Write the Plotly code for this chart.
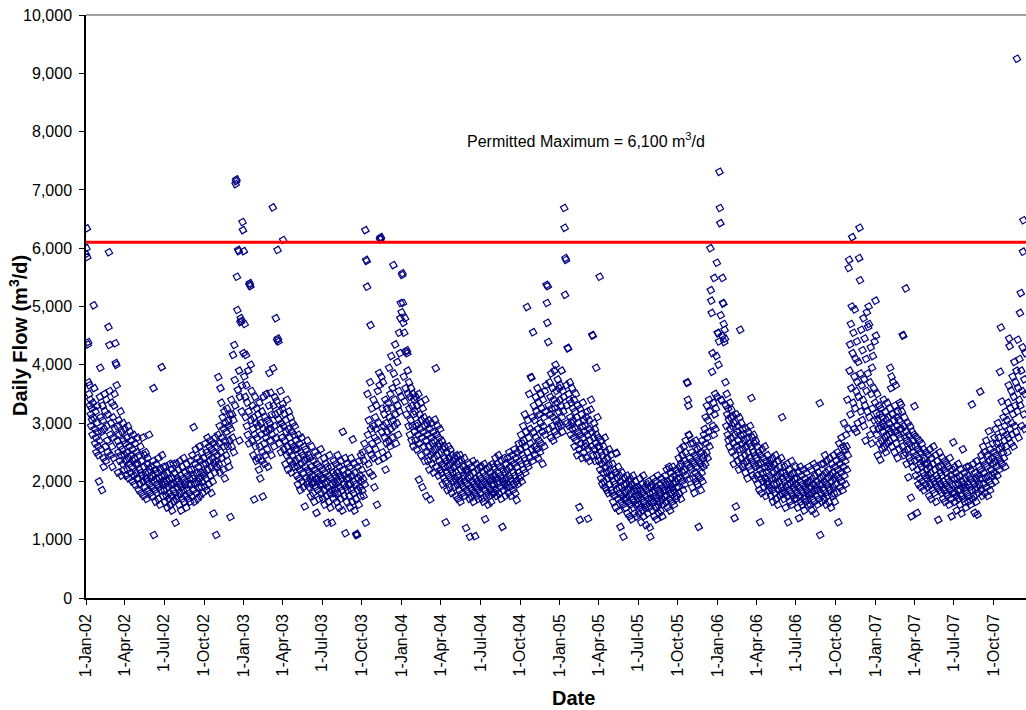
import pandas as pd
import plotly.graph_objects as go

# Daily flow readings (m3/d), one list per year
flow_2002 = [
    5900, 6000, 6340, 5850, 4350, 4390, 3700, 3500, 3650, 3300, 3400, 3150, 2950, 3250, 3050, 2800, 3350, 3100, 5020, 3600, 2900, 2650, 3200, 2750, 2500, 3000, 3300, 2850, 2600, 2450, 2000,
    2700, 3450, 3950, 3100, 2550, 2850, 1850, 3300, 3050, 2400, 2250, 2900, 3500, 3200, 2600, 2350, 3400, 2950, 2700, 2500, 3150, 4650, 5930, 4340, 3550, 2800, 2450, 3000,
    3350, 2600, 2250, 3100, 2750, 2400, 3300, 3500, 2900, 4370, 4030, 4000, 3650, 2950, 2700, 2150, 2500, 3050, 2800, 2350, 2600, 3200, 2450, 2100, 2850, 2550, 2300, 3000, 2700, 2200, 2450,
    2900, 2650, 2350, 2100, 2750, 2500, 2200, 2950, 2400, 2050, 2600, 2300, 2850, 2150, 2450, 2700, 2250, 2000, 2550, 2350, 2800, 2100, 2400, 1950, 2650, 2300, 2150, 2500, 2050, 2750,
    2300, 2050, 1850, 2450, 2200, 1950, 2600, 2150, 1800, 2350, 2100, 2750, 2000, 1750, 2250, 2450, 1900, 2150, 2500, 2050, 1700, 2300, 2000, 2400, 1850, 2150, 2800, 1950, 2200, 1800, 2050,
    2250, 1900, 2100, 1750, 2350, 3600, 1080, 2000, 1850, 2200, 1650, 2050, 2300, 1800, 1950, 2150, 1700, 2400, 1900, 2050, 1600, 2200, 1850, 2100, 3960, 2450, 1950, 1750, 2250, 2000,
    1850, 2100, 1650, 1950, 2250, 1750, 2000, 1550, 2150, 1900, 1700, 2050, 1800, 2300, 1600, 1950, 2200, 1750, 1500, 2050, 1850, 2300, 1650, 1950, 2150, 1800, 1290, 1700, 2000, 2300, 1900,
    2050, 1750, 2200, 1600, 1950, 2350, 1800, 2100, 1500, 1900, 2250, 1700, 2050, 1850, 2400, 1650, 1950, 2150, 1750, 2000, 1550, 2300, 1850, 2100, 1700, 1950, 2200, 1800, 2050, 1650, 2350,
    1950, 2200, 1750, 2450, 2050, 1850, 2930, 2100, 1650, 2300, 1950, 2550, 1800, 2150, 2400, 1700, 2000, 2250, 1900, 2600, 2050, 1750, 2350, 2150, 1900, 2500, 2000, 1800, 2300, 2100,
    2400, 2150, 1900, 2650, 2300, 2050, 2500, 1850, 2750, 2200, 2450, 1950, 2600, 2350, 2100, 2700, 2250, 1800, 2550, 2400, 2000, 2650, 1450, 2300, 2500, 2150, 2750, 2350, 1080, 2600, 2250,
    2450, 2800, 3790, 2300, 2650, 2950, 2150, 3600, 2500, 3350, 2750, 2400, 3100, 2200, 2900, 2600, 3200, 2050, 2700, 3000, 2450, 2850, 3250, 2350, 2600, 3050, 2950, 2250, 2700, 3150,
    1390, 2900, 3400, 2600, 3150, 2750, 4170, 3050, 2500, 4340, 3740, 3300, 7100, 7150, 7180, 5510, 4940, 3570, 5970, 5950, 3900, 2700, 3450, 4730, 4800, 4750, 3200, 3650, 6450, 6310, 4200,
]

flow_2003 = [
    5950, 3800, 4700, 3450, 3100, 4170, 3650, 2950, 3350, 2800, 3900, 3200, 2650, 5370, 5400, 5350, 4000, 3050, 3550, 2700, 3300, 2900, 2450, 3100, 1690, 2800, 3450, 2600, 3000, 2350, 3250,
    2750, 2400, 3150, 2950, 2200, 3350, 2600, 2050, 3000, 2800, 2350, 3200, 2500, 1740, 2900, 3450, 2650, 2300, 3100, 2450, 2750, 3500, 2850, 2550, 3050, 2250, 2900, 3300,
    3860, 3000, 2700, 3520, 2900, 2450, 3150, 2800, 6700, 3940, 3300, 2600, 2950, 3440, 3150, 4800, 2750, 3380, 4420, 5970, 4450, 4400, 3060, 2650, 3200, 2900, 3550, 2500, 3000, 2750, 3250,
    3330, 6140, 2950, 2550, 3160, 2700, 2300, 3050, 2850, 2450, 3400, 2600, 2200, 2900, 3200, 2500, 2750, 2350, 3100, 2650, 2150, 2850, 2450, 3000, 2300, 2600, 2800, 2250, 2950, 2550,
    2350, 2700, 2100, 2550, 2250, 1950, 2800, 2400, 2050, 2650, 2200, 1850, 2500, 2300, 2750, 2000, 2450, 2150, 1900, 2600, 2350, 1570, 2250, 2550, 2050, 2400, 1950, 2700, 2200, 2000, 2450,
    2150, 1900, 2400, 2050, 1750, 2250, 2600, 1950, 2100, 1800, 2350, 2000, 1650, 2200, 2500, 1900, 2050, 1460, 2300, 2150, 1850, 2450, 2000, 1700, 2250, 1950, 2100, 2550, 1800, 2050,
    1950, 2200, 1700, 2050, 2400, 1850, 1600, 2150, 1950, 2300, 1750, 2000, 1290, 2250, 1900, 1650, 2100, 2450, 1800, 1550, 2050, 2250, 1850, 1290, 1950, 2150, 1700, 2350, 2000, 1800, 2100,
    1850, 2300, 1950, 1650, 2150, 2450, 1800, 2000, 1550, 2250, 1900, 2100, 1700, 2350, 2050, 1850, 1500, 2850, 2200, 1950, 1750, 2100, 2400, 1110, 1900, 2050, 1650, 2300, 1850, 2150, 1950,
    2050, 1750, 2250, 1550, 1950, 2400, 1850, 2100, 1650, 2720, 2000, 1800, 2300, 1500, 2150, 1950, 1700, 1080, 1100, 1080, 2250, 1850, 2050, 1600, 2350, 1900, 2100, 1750, 2450, 2000,
    2200, 1850, 2500, 2050, 1750, 2350, 2650, 1950, 6310, 1290, 5800, 5780, 5340, 3500, 2800, 2300, 3050, 2550, 2150, 3700, 4680, 2900, 2450, 3250, 2650, 2100, 2950, 3400, 2400, 1900, 2750,
    3100, 2550, 2900, 3300, 1600, 2700, 3550, 2350, 3000, 3860, 3650, 6150, 6170, 6190, 3800, 2850, 3250, 2500, 3700, 2950, 2400, 3150, 2750, 3400, 2200, 3000, 2650, 3250, 2850, 2450,
    3350, 2700, 3950, 3100, 2600, 3500, 2900, 4150, 3250, 2750, 3600, 3050, 5710, 3850, 2950, 3400, 4350, 3150, 2650, 3700, 3000, 4050, 3300, 2800, 3550, 4550, 3200, 4200, 4800, 5060, 3450,
]

flow_2004 = [
    4900, 5540, 5570, 5060, 4720, 3800, 4550, 3370, 4800, 3600, 4220, 3150, 4250, 4200, 3900, 3500, 2950, 3700, 3250, 2800, 3450, 3050, 3600, 2700, 3300, 2950, 3500, 2600, 3150, 3400, 2850,
    3200, 2700, 3450, 2950, 2550, 3300, 3000, 2800, 3500, 2030, 2650, 3150, 2900, 3350, 2450, 3050, 2750, 1900, 3250, 2850, 2600, 3100, 2350, 2950, 3400, 2700, 1750, 3000, 2500,
    2800, 2350, 3050, 2600, 2200, 2900, 1690, 2450, 2750, 3000, 2300, 2650, 2500, 2850, 2150, 2700, 2400, 3060, 2550, 3940, 2250, 2800, 2450, 2950, 2600, 2100, 2750, 2350, 2650, 2900, 2200,
    2500, 2150, 2700, 2300, 1950, 2550, 2250, 2050, 2600, 2400, 2000, 1300, 2350, 2150, 2500, 1850, 2250, 2600, 2100, 2400, 1900, 2300, 2550, 2050, 2200, 1800, 2450, 2150, 2350, 2000,
    2250, 1900, 2400, 2050, 1750, 2150, 2450, 1950, 2300, 1700, 2100, 2350, 1850, 2000, 2450, 1650, 2200, 1950, 2350, 2050, 1800, 2250, 1900, 2100, 2400, 1750, 2000, 2200, 1200, 1850, 2150,
    1950, 2200, 1800, 2050, 2300, 1700, 1050, 2100, 1900, 1750, 2250, 1850, 2000, 2350, 1650, 1950, 2150, 1800, 1060, 2050, 1900, 2300, 1750, 2000, 2200, 1850, 1700, 2100, 1950, 2250,
    1800, 2050, 1900, 2250, 1700, 1950, 2150, 1650, 2000, 2300, 1850, 1350, 2100, 1750, 1950, 2200, 1800, 2050, 1600, 1900, 2250, 1750, 2000, 2150, 1850, 1650, 2050, 1950, 2300, 1800, 2100,
    1950, 2250, 1800, 2100, 2400, 1850, 2050, 1750, 2300, 1950, 2150, 2450, 1800, 2000, 2250, 1900, 2100, 1700, 2350, 2050, 1220, 2200, 1850, 2000, 2400, 1950, 2150, 1750, 2300, 2050, 1900,
    2200, 1950, 2400, 1800, 2100, 2500, 1900, 2250, 2050, 1750, 2350, 2000, 2450, 1850, 2150, 2300, 1950, 2550, 2100, 1800, 2400, 2000, 1680, 2250, 2500, 1950, 2150, 2650, 2050, 2350,
    2550, 2100, 2800, 2300, 2000, 2650, 2450, 2950, 2200, 2700, 2400, 3150, 2150, 2600, 2850, 2300, 4990, 2500, 3050, 2250, 2750, 3500, 2400, 2900, 2650, 3790, 3780, 2550, 3100, 2350, 4560,
    2850, 3300, 2600, 3050, 2450, 3450, 2750, 3200, 2550, 3600, 2900, 2400, 3350, 2700, 3150, 2500, 3000, 3500, 2650, 3250, 2850, 2300, 3400, 2950, 3100, 2600, 3550, 2800, 3200, 3650,
    5370, 5060, 4720, 5350, 4390, 3300, 2900, 3700, 3150, 3450, 2750, 3850, 3250, 2950, 3600, 3100, 2700, 3400, 3900, 2850, 3250, 4000, 3050, 3550, 2800, 3350, 3750, 2950, 3200, 3600, 3000,
]

flow_2005 = [
    3400, 3650, 2950, 3300, 3900, 3100, 2850, 3550, 3200, 3450, 6690, 6350, 5200, 5830, 5800, 3650, 3300, 3000, 4290, 4280, 3500, 2950, 3400, 3700, 3100, 2800, 3350, 3000, 3600, 2900, 3250,
    3050, 2750, 3400, 2600, 3200, 2900, 3500, 2700, 3100, 2450, 3300, 2850, 3000, 2550, 1560, 1340, 3250, 2800, 2650, 3150, 2400, 2950, 3350, 2750, 2500, 3050, 2850, 2600,
    2950, 2650, 3100, 2400, 2800, 3200, 1360, 2550, 2900, 3050, 2350, 2700, 3230, 3400, 2600, 2850, 4510, 4500, 2450, 2750, 3000, 2550, 2900, 2350, 2650, 3950, 2800, 2450, 3100, 2600, 2750,
    2350, 2600, 5510, 2200, 2500, 2050, 2700, 2300, 1950, 2450, 2150, 2600, 2000, 2350, 2750, 1900, 2250, 2500, 1850, 2150, 2400, 2050, 1800, 2300, 2550, 1950, 2200, 2100, 2450, 1850,
    2100, 1800, 2300, 1650, 2000, 2200, 1750, 1950, 2150, 1550, 2490, 2480, 1850, 2050, 1700, 2250, 1900, 1500, 2100, 1800, 1220, 2000, 1650, 1900, 2150, 1750, 1600, 1050, 1950, 1700, 2050,
    1800, 1550, 1950, 1700, 2100, 1450, 1850, 1650, 2000, 1750, 1400, 1900, 2050, 1600, 1800, 1350, 1950, 1700, 2100, 1550, 1850, 1650, 1450, 1900, 2000, 1600, 1750, 1400, 1850, 1700,
    1600, 1900, 1450, 1750, 2050, 1550, 1850, 1300, 1700, 1950, 1500, 1800, 2100, 1400, 1650, 1900, 1550, 1750, 1250, 1850, 1600, 1950, 1450, 1700, 2000, 1550, 1800, 1210, 1050, 1650, 1900,
    1700, 1950, 1500, 1800, 2050, 1650, 1400, 1850, 1750, 2000, 1550, 1900, 1350, 1700, 2100, 1600, 1850, 1450, 1750, 1950, 1650, 1500, 1800, 2050, 1700, 1400, 1900, 1600, 1850, 2000, 1750,
    1850, 2100, 1650, 1950, 2200, 1750, 1550, 2000, 1850, 2250, 1700, 1950, 1500, 2150, 1800, 2050, 1900, 1650, 2250, 1850, 1950, 1600, 2100, 1800, 2000, 1700, 2200, 1900, 1750, 2050,
    2150, 1900, 2400, 1800, 2250, 2050, 2550, 1700, 2300, 2000, 2450, 2150, 1850, 2600, 2200, 2350, 1950, 2500, 2700, 2100, 2300, 3700, 3690, 3400, 3300, 2800, 2790, 2050, 2400, 2250, 2650,
    2200, 2500, 1900, 2350, 2650, 2050, 2300, 1800, 2450, 2150, 2700, 2000, 2400, 2250, 1950, 2550, 2100, 1220, 2350, 2600, 2050, 2300, 1850, 2500, 2150, 2700, 2000, 2400, 2250, 2800,
    2450, 2900, 2300, 3100, 2650, 2500, 3300, 2750, 2400, 3050, 2850, 3400, 2600, 3200, 6000, 5280, 5100, 4890, 3880, 4200, 2950, 3350, 2800, 5490, 3150, 3500, 2900, 3250, 4150, 5750, 3450,
]

flow_2006 = [
    4550, 4540, 4000, 4400, 7310, 6690, 6430, 4850, 3400, 3390, 4500, 5490, 5060, 5050, 4700, 4390, 4600, 4450, 3700, 3300, 2950, 3500, 3150, 2800, 3250, 2700, 3050, 2600, 3350, 2900, 3100,
    2750, 3230, 2500, 2950, 3120, 2650, 2300, 3000, 1370, 2800, 2450, 1570, 3150, 2600, 2850, 2350, 2950, 2700, 2200, 3100, 2550, 4600, 2800, 2400, 3000, 2650, 2250, 2900,
    2550, 2800, 2300, 2700, 2450, 2150, 2900, 2600, 2350, 2750, 2050, 2500, 2850, 2250, 2650, 2400, 2950, 2200, 2600, 3430, 2350, 2750, 2100, 2500, 2800, 2300, 2650, 2050, 2450, 2700, 2250,
    2400, 2100, 2600, 1950, 2300, 2500, 1850, 2200, 1300, 2450, 2050, 2300, 1800, 2550, 2150, 2000, 2400, 1900, 2250, 2600, 2050, 1750, 2350, 2150, 1950, 2450, 2000, 2250, 1850, 2300,
    2100, 1900, 2350, 1750, 2050, 2250, 1850, 2400, 1650, 2150, 1950, 2300, 1800, 2050, 2450, 1700, 2200, 1950, 2100, 1600, 2350, 1850, 2000, 2250, 1750, 2150, 1900, 2400, 1800, 3100, 2050,
    1850, 2150, 1700, 2000, 2250, 1800, 1550, 2100, 1900, 2300, 1750, 1950, 1300, 2050, 1850, 2200, 1650, 1950, 2100, 1800, 2350, 1600, 2000, 1750, 2150, 1900, 1700, 2050, 1850, 2250,
    1950, 1700, 2050, 1800, 1550, 2150, 1900, 1370, 1750, 2000, 2250, 1650, 1850, 2100, 1600, 1950, 1800, 2200, 1700, 1500, 1900, 2050, 1750, 1650, 2150, 1850, 1950, 1600, 2000, 1800, 2250,
    1750, 2000, 1600, 1900, 2200, 1800, 1500, 2050, 1700, 1950, 2300, 1650, 1850, 2100, 1450, 1900, 2250, 1750, 2000, 1600, 1850, 2150, 1700, 1950, 3340, 1080, 2050, 1800, 2300, 1650, 1950,
    2100, 1850, 2300, 1700, 2000, 2450, 1800, 2150, 1600, 1950, 2350, 1750, 2050, 2200, 1650, 1900, 2400, 1850, 2100, 1550, 2000, 2300, 1750, 2150, 1900, 2450, 1800, 2050, 1650, 2250,
    1950, 2350, 2100, 1800, 2500, 2200, 1300, 2050, 2650, 2300, 1900, 2450, 2150, 2750, 2000, 2400, 1850, 2600, 2250, 3000, 2100, 2550, 2350, 1950, 2800, 2600, 2200, 3400, 2450, 2900, 5660,
    5800, 3900, 4350, 3150, 4700, 3600, 5000, 6190, 4200, 3350, 4550, 2900, 3800, 4950, 3250, 4100, 3550, 2850, 4400, 3700, 3000, 4050, 3450, 5830, 6350, 5450, 3850, 3200, 4600, 3650,
    3050, 4250, 3400, 4800, 2950, 3750, 4450, 3300, 2700, 4100, 3550, 4900, 3200, 3850, 4650, 5000, 4700, 3100, 3700, 2800, 4300, 3500, 2650, 3950, 3250, 4150, 2900, 3600, 3050, 4400, 3350,
]

flow_2007 = [
    5100, 4500, 3170, 2800, 3500, 2450, 3050, 2900, 3300, 2650, 3150, 2370, 2950, 3250, 2700, 3100, 2550, 3000, 2850, 3400, 2600, 2950, 2750, 3200, 2500, 3050, 2800, 3350, 2650, 2900, 3100,
    3000, 2700, 3250, 3950, 2850, 3600, 3800, 2600, 3150, 2900, 3700, 2750, 3050, 2500, 3300, 2850, 3650, 2650, 3100, 2950, 2400, 3200, 2800, 3050, 2550, 3350, 2900, 2750,
    3320, 2900, 3200, 2600, 4510, 4500, 2950, 2450, 3100, 2750, 2500, 5310, 2850, 2300, 2700, 3000, 2550, 2070, 2800, 2400, 2650, 2950, 2350, 1720, 1400, 2600, 2850, 2250, 2700, 2500, 2800,
    3290, 2350, 2600, 2100, 2450, 2750, 1460, 2200, 2550, 1950, 2400, 2700, 2050, 2300, 2500, 1900, 2250, 2650, 2000, 2350, 2150, 2550, 1850, 2400, 2100, 2300, 1950, 2500, 2200, 2050,
    2300, 1900, 2450, 2100, 1750, 2250, 2550, 1950, 2150, 1700, 2400, 2050, 1850, 2300, 2600, 2000, 1800, 2200, 1950, 2450, 1650, 2100, 2350, 1900, 2050, 1340, 2250, 2000, 2500, 1850, 2150,
    1950, 2250, 1800, 2100, 2400, 1700, 2000, 2200, 1850, 2350, 1650, 1950, 2150, 1800, 2300, 1750, 2050, 1900, 2250, 1600, 2000, 2400, 1850, 2100, 1700, 1400, 1950, 2200, 1800, 2670,
    2050, 1800, 2250, 1650, 1950, 2150, 1750, 1500, 2050, 1850, 2300, 1700, 1950, 2100, 1600, 1850, 2200, 1750, 1450, 2000, 1900, 2550, 1700, 1950, 2150, 1650, 1850, 2050, 1550, 1900, 2250,
    1800, 2100, 1650, 1950, 2250, 1750, 1900, 2050, 1600, 2200, 1850, 3320, 1700, 2000, 2300, 1750, 1950, 1460, 2150, 1850, 2050, 1650, 2350, 1900, 1430, 2100, 1800, 2250, 1950, 2050, 3540,
    2200, 1850, 2450, 2050, 1750, 2350, 2600, 1950, 2150, 2500, 1800, 2300, 2050, 2700, 1900, 2250, 2450, 1750, 2100, 2860, 2000, 2350, 1850, 2550, 2200, 1950, 2400, 2100, 2650, 2300,
    2500, 2150, 2750, 2350, 2000, 2900, 2450, 2250, 2650, 2100, 3000, 2400, 2750, 2200, 2550, 3880, 2350, 4640, 2600, 3370, 2300, 2850, 2500, 3100, 2400, 2700, 2950, 2250, 3200, 2600, 2800,
    3050, 2500, 3350, 2750, 3650, 4450, 4320, 2900, 3250, 2650, 3550, 3000, 2800, 3800, 3150, 2600, 3450, 4050, 2950, 3300, 3700, 2850, 3900, 9250, 3200, 4430, 3600, 2750, 3400, 4100,
    4890, 3300, 5230, 3900, 2950, 3550, 4300, 5940, 6480, 3150, 3750, 2900, 3500, 4200,
]

flows_by_year = {2002: flow_2002, 2003: flow_2003, 2004: flow_2004,
                 2005: flow_2005, 2006: flow_2006, 2007: flow_2007}

permitted_max = 6100
x_start = "2002-01-01"
x_end = "2007-12-15"
tick_dates = pd.date_range("2002-01-01", "2007-10-01", freq="QS")

dates = []
flows = []
for yr, vals in flows_by_year.items():
    d = pd.date_range(f"{yr}-01-01", periods=len(vals), freq="D")
    dates.extend(list(d))
    flows.extend(vals)

FONT = "Arial, 'Liberation Sans', Helvetica, sans-serif"

fig = go.Figure()
fig.add_trace(go.Scatter(
    x=dates, y=flows, mode="markers",
    marker=dict(symbol="square-open", size=5.5, color="#000080",
                line=dict(width=1.2, color="#000080"), angle=-30),
    showlegend=False, hoverinfo="x+y",
))
fig.add_trace(go.Scatter(
    x=[x_start, x_end], y=[permitted_max, permitted_max], mode="lines",
    line=dict(color="#FF0000", width=3), showlegend=False, hoverinfo="skip",
))

fig.add_shape(type="line", xref="paper", yref="paper", x0=0, x1=1, y0=1, y1=1,
              line=dict(color="#808080", width=1.5))

fig.add_annotation(
    xref="paper", yref="y", x=0.532, y=7850,
    text="Permitted Maximum = 6,100 m<sup>3</sup>/d", showarrow=False,
    font=dict(family=FONT, size=16, color="black"),
)
# axis titles (positioned like the original, whose plot area runs past the right edge)
fig.add_annotation(
    xref="paper", yref="paper", x=(573 - 86) / 940, y=-(698 - 598) / 583,
    xanchor="center", yanchor="middle",
    text="<b>Date</b>", showarrow=False,
    font=dict(family=FONT, size=20, color="black"),
)
fig.add_annotation(
    xref="paper", yref="paper", x=-(86 - 19) / 940, y=(598 - 336) / 583,
    xanchor="center", yanchor="middle", textangle=-90,
    text="<b>Daily Flow (m<sup>3</sup>/d)</b>", showarrow=False,
    font=dict(family=FONT, size=20, color="black"),
)

fig.update_layout(
    width=1026, height=710,
    margin=dict(l=86, r=0, t=15, b=112),
    paper_bgcolor="white", plot_bgcolor="white",
    font=dict(family=FONT, color="black"),
)
fig.update_xaxes(
    type="date", range=[x_start, x_end],
    tickvals=list(tick_dates), tickformat="%-d-%b-%y", tickangle=-90,
    ticks="outside", ticklen=5, tickcolor="black", tickwidth=1,
    ticklabelstandoff=3,
    tickfont=dict(family=FONT, size=16, color="black"),
    showline=True, linecolor="black", linewidth=1.5,
    showgrid=False, zeroline=False,
)
fig.update_yaxes(
    range=[0, 10000], dtick=1000, tickformat=",d",
    ticks="outside", ticklen=5, tickcolor="black", tickwidth=1,
    ticklabelstandoff=4,
    tickfont=dict(family=FONT, size=16, color="black"),
    showline=True, linecolor="black", linewidth=1.5,
    showgrid=False, zeroline=False,
)

fig.write_html("out.html")
